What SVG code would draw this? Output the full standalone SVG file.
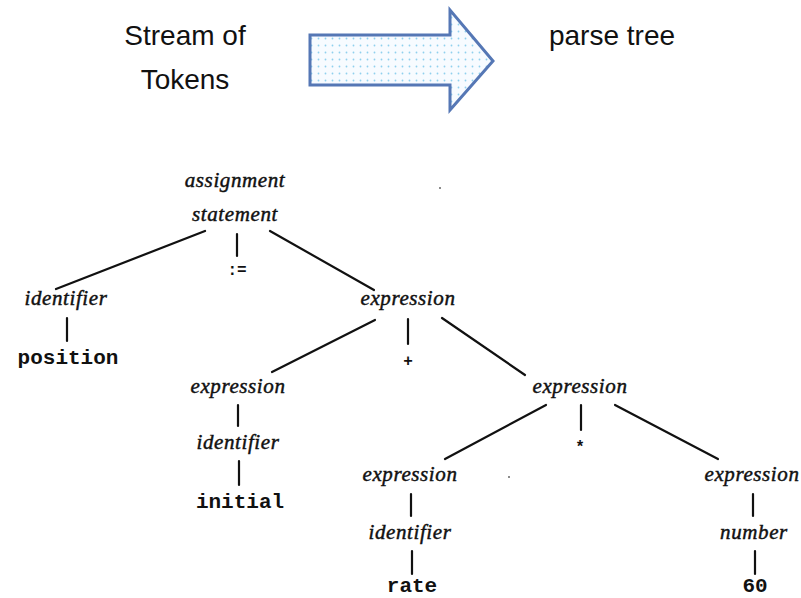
<svg xmlns="http://www.w3.org/2000/svg" width="801" height="598" viewBox="0 0 801 598">
  <defs>
    <pattern id="dots" width="7" height="7" patternUnits="userSpaceOnUse">
      <rect width="7" height="7" fill="#f7fbff"/>
      <circle cx="3.5" cy="3.5" r="0.9" fill="#8fd0ee"/>
    </pattern>
  </defs>
  <style>
    .title { font-family: "Liberation Sans", Arial, sans-serif; font-size: 28px; fill: #111; text-anchor: middle; }
    .nt { font-family: "Liberation Serif", "Times New Roman", serif; font-style: italic; font-size: 21px; letter-spacing: 0.6px; fill: #111; stroke: #111; stroke-width: 0.45; text-anchor: middle; }
    .tk { font-family: "Liberation Mono", "Courier New", monospace; font-weight: bold; font-size: 21px; fill: #111; text-anchor: middle; }
    .op { font-family: "Liberation Mono", "Courier New", monospace; font-weight: bold; font-size: 16px; fill: #111; text-anchor: middle; }
    .edge { stroke: #111; stroke-width: 2.2; fill: none; stroke-linecap: round; }
  </style>
  <rect width="801" height="598" fill="#ffffff"/>

  <!-- header -->
  <g id="header">
    <text class="title" x="185" y="45">Stream of</text>
    <text class="title" x="185" y="89">Tokens</text>
    <text class="title" x="612" y="45">parse tree</text>
    <path d="M310 35 H450 V10 L493 61 L450 110 V85 H310 Z" fill="url(#dots)" stroke="#5577b5" stroke-width="3" stroke-linejoin="miter"/>
  </g>

  <!-- connectors -->
  <g id="edges">
    <line class="edge" x1="205" y1="231" x2="56" y2="289"/>
    <line class="edge" x1="237" y1="234" x2="237" y2="256"/>
    <line class="edge" x1="270" y1="231" x2="374" y2="290"/>
    <line class="edge" x1="67" y1="318" x2="67" y2="341"/>
    <line class="edge" x1="375" y1="320" x2="272" y2="372"/>
    <line class="edge" x1="408" y1="319" x2="408" y2="344"/>
    <line class="edge" x1="442" y1="318" x2="525" y2="375"/>
    <line class="edge" x1="238" y1="405" x2="238" y2="426"/>
    <line class="edge" x1="239" y1="461" x2="239" y2="485"/>
    <line class="edge" x1="546" y1="405" x2="445" y2="459"/>
    <line class="edge" x1="581" y1="405" x2="581" y2="430"/>
    <line class="edge" x1="615" y1="405" x2="718" y2="459"/>
    <line class="edge" x1="411" y1="494" x2="411" y2="516"/>
    <line class="edge" x1="412" y1="551" x2="412" y2="574"/>
    <line class="edge" x1="753" y1="494" x2="753" y2="516"/>
    <line class="edge" x1="755" y1="551" x2="755" y2="574"/>
  </g>

  <!-- tree nodes -->
  <g id="n-assign">
    <text class="nt" x="235" y="187">assignment</text>
    <text class="nt" x="235" y="221">statement</text>
  </g>
  <g id="n-assign-op"><text class="op" x="237" y="275">:=</text></g>
  <g id="n-identifier-1"><text class="nt" x="66" y="305">identifier</text></g>
  <g id="n-position"><text class="tk" x="68" y="364">position</text></g>
  <g id="n-expr-1"><text class="nt" x="408" y="305">expression</text></g>
  <g id="n-plus"><text class="op" x="408" y="366">+</text></g>
  <g id="n-expr-2"><text class="nt" x="238" y="393">expression</text></g>
  <g id="n-identifier-2"><text class="nt" x="238" y="449">identifier</text></g>
  <g id="n-initial"><text class="tk" x="240" y="508">initial</text></g>
  <g id="n-expr-3"><text class="nt" x="580" y="393">expression</text></g>
  <g id="n-times"><text class="op" x="580" y="452">*</text></g>
  <g id="n-expr-4"><text class="nt" x="410" y="481">expression</text></g>
  <g id="n-identifier-3"><text class="nt" x="410" y="539">identifier</text></g>
  <g id="n-rate"><text class="tk" x="412" y="592">rate</text></g>
  <g id="n-expr-5"><text class="nt" x="752" y="481">expression</text></g>
  <g id="n-number"><text class="nt" x="754" y="539">number</text></g>
  <g id="n-60"><text class="tk" x="755" y="592">60</text></g>

  <!-- specks -->
  <circle cx="440" cy="188" r="1" fill="#666"/>
  <circle cx="509" cy="477" r="1" fill="#666"/>
</svg>
